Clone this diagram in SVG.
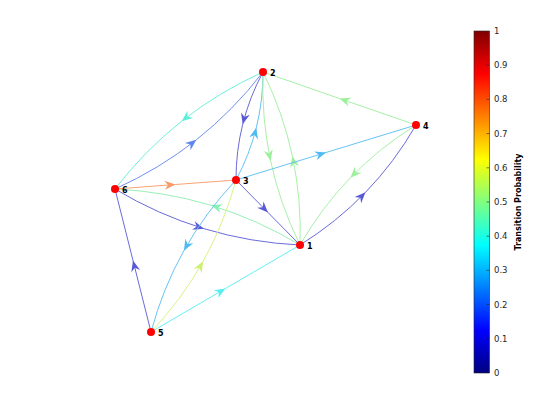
<svg xmlns="http://www.w3.org/2000/svg" width="560" height="420" viewBox="0 0 560 420">
<defs>
<style>
.e{fill:none;stroke-width:1}
.n{fill:#ff0000}
.lb{font-family:"DejaVu Sans","Liberation Sans",sans-serif;font-size:8px;font-weight:bold;fill:#000}
.tk{font-family:"DejaVu Sans","Liberation Sans",sans-serif;font-size:8.5px;fill:#262626}
</style>
<linearGradient id="jet" x1="0" y1="1" x2="0" y2="0">
<stop offset="0" stop-color="#000080"/>
<stop offset="0.125" stop-color="#0000ff"/>
<stop offset="0.375" stop-color="#00ffff"/>
<stop offset="0.625" stop-color="#ffff00"/>
<stop offset="0.875" stop-color="#ff0000"/>
<stop offset="1" stop-color="#800000"/>
</linearGradient>
<marker id="aB" markerUnits="userSpaceOnUse" markerWidth="14" markerHeight="12" viewBox="-12 -6 14 12" refX="0" refY="0" orient="auto"><path d="M0,0 L-11,-4.5 L-7.5,0 L-11,4.5 Z" fill="#5a5ad6"/></marker>
<marker id="aB2" markerUnits="userSpaceOnUse" markerWidth="14" markerHeight="12" viewBox="-12 -6 14 12" refX="0" refY="0" orient="auto"><path d="M0,0 L-11,-4.5 L-7.5,0 L-11,4.5 Z" fill="#5f86ee"/></marker>
<marker id="aL" markerUnits="userSpaceOnUse" markerWidth="14" markerHeight="12" viewBox="-12 -6 14 12" refX="0" refY="0" orient="auto"><path d="M0,0 L-11,-4.5 L-7.5,0 L-11,4.5 Z" fill="#50baf2"/></marker>
<marker id="aT" markerUnits="userSpaceOnUse" markerWidth="14" markerHeight="12" viewBox="-12 -6 14 12" refX="0" refY="0" orient="auto"><path d="M0,0 L-11,-4.5 L-7.5,0 L-11,4.5 Z" fill="#60eed8"/></marker>
<marker id="aC" markerUnits="userSpaceOnUse" markerWidth="14" markerHeight="12" viewBox="-12 -6 14 12" refX="0" refY="0" orient="auto"><path d="M0,0 L-11,-4.5 L-7.5,0 L-11,4.5 Z" fill="#58eef2"/></marker>
<marker id="aG" markerUnits="userSpaceOnUse" markerWidth="14" markerHeight="12" viewBox="-12 -6 14 12" refX="0" refY="0" orient="auto"><path d="M0,0 L-11,-4.5 L-7.5,0 L-11,4.5 Z" fill="#9cf09c"/></marker>
<marker id="aG2" markerUnits="userSpaceOnUse" markerWidth="14" markerHeight="12" viewBox="-12 -6 14 12" refX="0" refY="0" orient="auto"><path d="M0,0 L-11,-4.5 L-7.5,0 L-11,4.5 Z" fill="#88f0b4"/></marker>
<marker id="aY" markerUnits="userSpaceOnUse" markerWidth="14" markerHeight="12" viewBox="-12 -6 14 12" refX="0" refY="0" orient="auto"><path d="M0,0 L-11,-4.5 L-7.5,0 L-11,4.5 Z" fill="#cef070"/></marker>
<marker id="aO" markerUnits="userSpaceOnUse" markerWidth="14" markerHeight="12" viewBox="-12 -6 14 12" refX="0" refY="0" orient="auto"><path d="M0,0 L-11,-4.5 L-7.5,0 L-11,4.5 Z" fill="#f89a66"/></marker>
</defs>
<rect width="560" height="420" fill="#ffffff"/>
<g id="edges">
<path id="e2-6" class="e" stroke="#70f0dc" marker-mid="url(#aT)" d="M263,72 Q218.65,91.95 181.65,121.2 Q144.65,150.45 115,189"/>
<path id="e6-2" class="e" stroke="#7090f0" marker-mid="url(#aB2)" d="M115,189 Q159.35,169.05 196.35,139.8 Q233.35,110.55 263,72"/>
<path id="e2-3" class="e" stroke="#6a6ad8" marker-mid="url(#aB)" d="M263,72 Q249.45,97.3 242.7,124.3 Q235.95,151.3 236,180"/>
<path id="e3-2" class="e" stroke="#66c4f4" marker-mid="url(#aL)" d="M236,180 Q249.55,154.7 256.3,127.7 Q263.05,100.7 263,72"/>
<path id="e2-1" class="e" stroke="#a8f0a8" marker-mid="url(#aG)" d="M263,72 Q261.35,117.6 270.6,160.85 Q279.85,204.1 300,245"/>
<path id="e1-2" class="e" stroke="#a8f0a8" marker-mid="url(#aG)" d="M300,245 Q301.65,199.4 292.4,156.15 Q283.15,112.9 263,72"/>
<path id="e4-1" class="e" stroke="#a8f0a8" marker-mid="url(#aG)" d="M416,125 Q379.45,147.7 350.45,177.7 Q321.45,207.7 300,245"/>
<path id="e1-4" class="e" stroke="#6a6ad8" marker-mid="url(#aB)" d="M300,245 Q336.55,222.3 365.55,192.3 Q394.55,162.3 416,125"/>
<path id="e6-1" class="e" stroke="#6a6ad8" marker-mid="url(#aB)" d="M115,189 Q157.7,214.65 203.95,228.65 Q250.2,242.65 300,245"/>
<path id="e1-6" class="e" stroke="#98f0b8" marker-mid="url(#aG2)" d="M300,245 Q257.3,219.35 211.05,205.35 Q164.8,191.35 115,189"/>
<path id="e3-5" class="e" stroke="#66c4f4" marker-mid="url(#aL)" d="M236,180 Q205.15,212.65 183.9,250.65 Q162.65,288.65 151,332"/>
<path id="e5-3" class="e" stroke="#d8f488" marker-mid="url(#aY)" d="M151,332 Q181.85,299.35 203.1,261.35 Q224.35,223.35 236,180"/>
<path id="e4-2" class="e" stroke="#a8f0a8" marker-mid="url(#aG)" d="M416,125 L339.5,98.5 L263,72"/>
<path id="e3-4" class="e" stroke="#66c4f4" marker-mid="url(#aL)" d="M236,180 L326,152.5 L416,125"/>
<path id="e6-3" class="e" stroke="#f8a474" marker-mid="url(#aO)" d="M115,189 L175.5,184.5 L236,180"/>
<path id="e3-1" class="e" stroke="#6a6ad8" marker-mid="url(#aB)" d="M236,180 L268,212.5 L300,245"/>
<path id="e5-6" class="e" stroke="#6a6ad8" marker-mid="url(#aB)" d="M151,332 L133,260.5 L115,189"/>
<path id="e5-1" class="e" stroke="#66f0f4" marker-mid="url(#aC)" d="M151,332 L225.5,288.5 L300,245"/>
</g>
<g id="node1"><circle class="n" cx="300" cy="245" r="4"/><text class="lb" x="307" y="249">1</text></g>
<g id="node2"><circle class="n" cx="263" cy="72" r="4"/><text class="lb" x="270" y="76">2</text></g>
<g id="node3"><circle class="n" cx="236" cy="180" r="4"/><text class="lb" x="243" y="184">3</text></g>
<g id="node4"><circle class="n" cx="416" cy="125" r="4"/><text class="lb" x="423" y="129">4</text></g>
<g id="node5"><circle class="n" cx="151" cy="332" r="4"/><text class="lb" x="158" y="336">5</text></g>
<g id="node6"><circle class="n" cx="115" cy="189" r="4"/><text class="lb" x="122" y="193">6</text></g>
<g id="colorbar">
<rect x="474" y="31" width="15.5" height="342" fill="url(#jet)" stroke="#262626" stroke-width="0.6"/>
<g stroke="#262626" stroke-width="0.6">
<line x1="486.5" y1="338.8" x2="489.5" y2="338.8"/>
<line x1="486.5" y1="304.6" x2="489.5" y2="304.6"/>
<line x1="486.5" y1="270.4" x2="489.5" y2="270.4"/>
<line x1="486.5" y1="236.2" x2="489.5" y2="236.2"/>
<line x1="486.5" y1="202" x2="489.5" y2="202"/>
<line x1="486.5" y1="167.8" x2="489.5" y2="167.8"/>
<line x1="486.5" y1="133.6" x2="489.5" y2="133.6"/>
<line x1="486.5" y1="99.4" x2="489.5" y2="99.4"/>
<line x1="486.5" y1="65.2" x2="489.5" y2="65.2"/>
</g>
<text class="tk" x="494" y="376">0</text>
<text class="tk" x="494" y="341.8">0.1</text>
<text class="tk" x="494" y="307.6">0.2</text>
<text class="tk" x="494" y="273.4">0.3</text>
<text class="tk" x="494" y="239.2">0.4</text>
<text class="tk" x="494" y="205">0.5</text>
<text class="tk" x="494" y="170.8">0.6</text>
<text class="tk" x="494" y="136.6">0.7</text>
<text class="tk" x="494" y="102.4">0.8</text>
<text class="tk" x="494" y="68.2">0.9</text>
<text class="tk" x="494" y="34">1</text>
<text class="lb" font-size="8.5" fill="#262626" text-anchor="middle" transform="translate(521,202) rotate(-90)">Transition Probability</text>
</g>
</svg>
